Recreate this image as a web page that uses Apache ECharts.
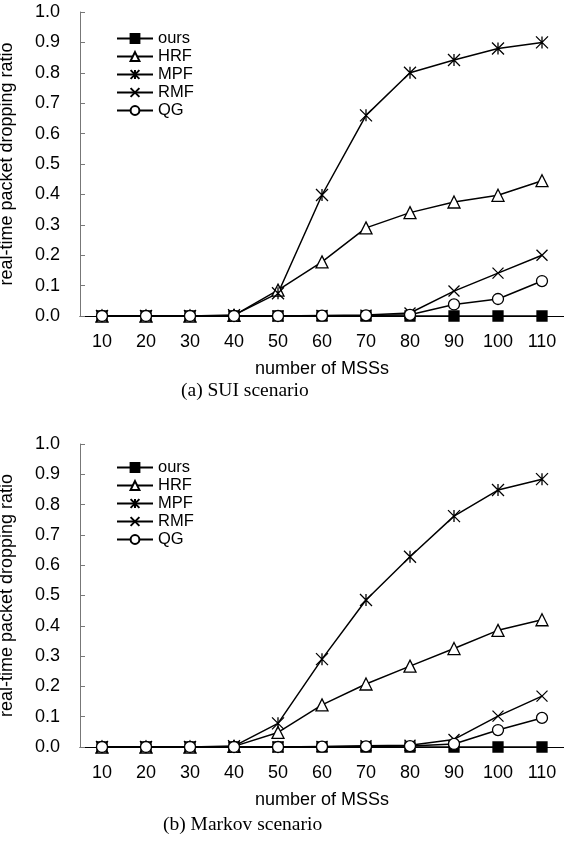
<!DOCTYPE html>
<html lang="en">
<head>
    <meta charset="UTF-8">
    <title>packet dropping ratio</title>
    <script src="https://cdn.jsdelivr.net/npm/echarts@6/dist/echarts.min.js"></script>
    <style>
        body { margin: 0; background: #fff; }
        #chart { width: 564px; height: 841px; }
    </style>
</head>
<body>
    <div id="chart"></div>
<script>
    // number of MSSs
    var categories = ['10', '20', '30', '40', '50', '60', '70', '80', '90', '100', '110'];
    var seriesNames = ['ours', 'HRF', 'MPF', 'RMF', 'QG'];

    // (a) SUI scenario
    var suiOurs = [0, 0, 0, 0, 0, 0, 0, 0, 0, 0, 0];
    var suiHRF  = [0, 0, 0, 0.002, 0.085, 0.178, 0.29, 0.34, 0.375, 0.397, 0.445];
    var suiMPF  = [0, 0, 0, 0.003, 0.075, 0.398, 0.66, 0.80, 0.842, 0.88, 0.90];
    var suiRMF  = [0, 0, 0, 0, 0, 0.002, 0.003, 0.01, 0.082, 0.141, 0.20];
    var suiQG   = [0, 0, 0, 0, 0, 0.001, 0.002, 0.004, 0.038, 0.056, 0.115];

    // (b) Markov scenario
    var mkvOurs = [0, 0, 0, 0, 0, 0, 0, 0, 0, 0, 0];
    var mkvHRF  = [0, 0, 0, 0.002, 0.048, 0.139, 0.208, 0.267, 0.325, 0.385, 0.42];
    var mkvMPF  = [0, 0, 0, 0.003, 0.078, 0.29, 0.485, 0.628, 0.762, 0.848, 0.884];
    var mkvRMF  = [0, 0, 0, 0, 0, 0.002, 0.004, 0.006, 0.025, 0.102, 0.168];
    var mkvQG   = [0, 0, 0, 0, 0, 0.001, 0.002, 0.003, 0.01, 0.056, 0.096];

    var font = "'Liberation Sans', Arial, sans-serif";
    var serif = "'Liberation Serif', 'DejaVu Serif', serif";

    var symbols = {
        ours: { symbol: 'rect', size: 10, fill: '#000' },
        HRF:  { symbol: 'triangle', size: 12, fill: '#fff' },
        MPF:  { symbol: 'path://M5 0 L5 10 M0 0 L10 10 M10 0 L0 10', size: 12, fill: 'none' },
        RMF:  { symbol: 'path://M0 0 L10 10 M10 0 L0 10', size: 11, fill: 'none' },
        QG:   { symbol: 'circle', size: 11, fill: '#fff' }
    };

    function makeSeries(name, data, idx) {
        var s = symbols[name];
        return {
            name: name,
            type: 'line',
            xAxisIndex: idx,
            yAxisIndex: idx,
            data: data,
            symbol: s.symbol,
            symbolSize: s.size,
            showAllSymbol: true,
            animation: false,
            lineStyle: { color: '#000', width: 1.5 },
            itemStyle: { color: s.fill, borderColor: '#000', borderWidth: 1.3 }
        };
    }

    function xAxis(idx) {
        return {
            type: 'category',
            gridIndex: idx,
            data: categories,
            boundaryGap: true,
            name: 'number of MSSs',
            nameLocation: 'middle',
            nameGap: 44,
            nameTextStyle: { color: '#000', fontSize: 18, fontFamily: font },
            axisLine: { lineStyle: { color: '#000', width: 1 } },
            axisTick: { inside: true, length: 5, lineStyle: { color: '#777' } },
            axisLabel: { color: '#000', fontSize: 18, fontFamily: font, margin: 17 }
        };
    }

    function yAxis(idx) {
        return {
            type: 'value',
            gridIndex: idx,
            min: 0,
            max: 1,
            interval: 0.1,
            name: 'real-time packet dropping ratio',
            nameLocation: 'middle',
            nameGap: 64,
            nameTextStyle: { color: '#000', fontSize: 18, fontFamily: font },
            axisLine: { show: true, lineStyle: { color: '#777', width: 1 } },
            axisTick: { show: true, inside: true, length: 5, lineStyle: { color: '#777' } },
            splitLine: { show: false },
            axisLabel: {
                color: '#000', fontSize: 18, fontFamily: font, margin: 20,
                formatter: function (v) { return v.toFixed(1); }
            }
        };
    }

    function legend(top) {
        return {
            data: seriesNames,
            orient: 'vertical',
            left: 111,
            top: top,
            itemWidth: 36,
            itemHeight: 11,
            itemGap: 1,
            textStyle: { color: '#000', fontSize: 16.5, lineHeight: 16, fontFamily: font }
        };
    }

    var chart = echarts.init(document.getElementById('chart'));
    var option = {
        backgroundColor: '#fff',
        animation: false,
        title: [
            { text: '(a) SUI scenario', left: 176, top: 376,
              textStyle: { color: '#000', fontSize: 19.5, fontWeight: 'normal', fontFamily: serif } },
            { text: '(b) Markov scenario', left: 158, top: 810,
              textStyle: { color: '#000', fontSize: 19.5, fontWeight: 'normal', fontFamily: serif } }
        ],
        grid: [
            { left: 80, top: 12, width: 484, height: 304, outerBoundsMode: 'none' },
            { left: 80, top: 444, width: 484, height: 303, outerBoundsMode: 'none' }
        ],
        legend: [legend(25), legend(454)],
        xAxis: [xAxis(0), xAxis(1)],
        yAxis: [yAxis(0), yAxis(1)],
        series: [
            makeSeries('ours', suiOurs, 0),
            makeSeries('HRF', suiHRF, 0),
            makeSeries('MPF', suiMPF, 0),
            makeSeries('RMF', suiRMF, 0),
            makeSeries('QG', suiQG, 0),
            makeSeries('ours', mkvOurs, 1),
            makeSeries('HRF', mkvHRF, 1),
            makeSeries('MPF', mkvMPF, 1),
            makeSeries('RMF', mkvRMF, 1),
            makeSeries('QG', mkvQG, 1)
        ]
    };
    chart.setOption(option);
</script>
</body>
</html>
